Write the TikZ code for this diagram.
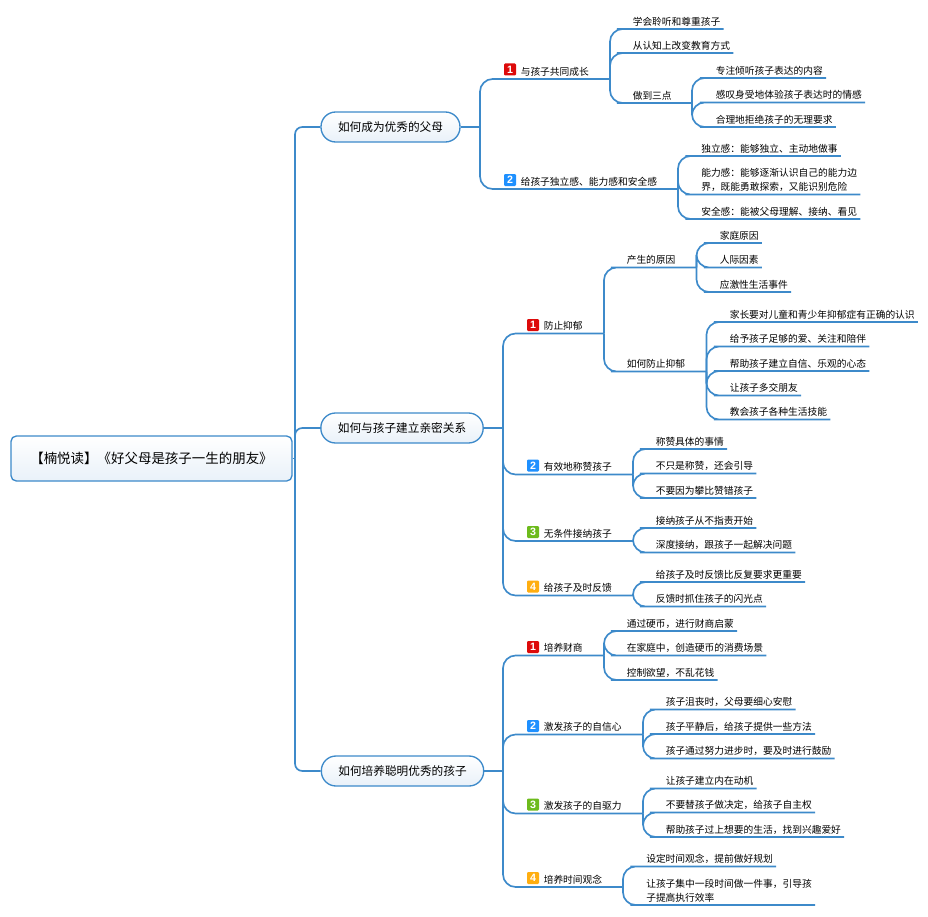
\documentclass[tikz,border=0pt]{standalone}
\usepackage{fontspec}
\setmainfont{Noto Sans CJK SC}
\newfontfamily\digitfont{Liberation Sans}
\definecolor{linkblue}{HTML}{3D8ACA}
\definecolor{paleblue}{HTML}{E9F1F9}
\definecolor{badgered}{HTML}{DD0A0A}
\definecolor{badgeblue}{HTML}{1E90FF}
\definecolor{badgegreen}{HTML}{6DBB1C}
\definecolor{badgeorange}{HTML}{FFAE10}
\tikzset{
    root/.style={draw=linkblue, line width=1pt, rounded corners=4pt, top color=white, bottom color=paleblue,
        minimum width=210.75pt, minimum height=33.75pt, font=\fontsize{10.1pt}{12pt}\selectfont},
    maintopic/.style={draw=linkblue, line width=1pt, rounded corners=11pt, top color=white, bottom color=paleblue,
        inner xsep=12.75pt, inner ysep=0pt, minimum height=22.5pt, font=\fontsize{8.75pt}{11pt}\selectfont},
    leaf/.style={anchor=south west, inner xsep=2.25pt, inner ysep=1.45pt, text height=6.2pt, text depth=1pt,
        font=\fontsize{7.3pt}{10.5pt}\selectfont},
    multileaf/.style={leaf, text height=, text depth=1pt, align=left},
    badge/.style={rounded corners=0.8pt, minimum size=9pt, inner sep=0pt, text=white,
        font=\digitfont\bfseries\fontsize{8pt}{8pt}\selectfont},
    link/.style={draw=linkblue, line width=1.25pt, rounded corners=9.5pt},
    mainlink/.style={draw=linkblue, line width=1.25pt, rounded corners=5.5pt}
}
\begin{document}
\begin{tikzpicture}[x=0.75pt, y=-0.75pt]
    \useasboundingbox (0, 0) rectangle (928, 917);
    % root and main topics
    \node [root] (root) at (151.5, 458.5) {【楠悦读】《好父母是孩子一生的朋友》};
    \node [maintopic] (ma) at (390.5, 127) {如何成为优秀的父母};
    \node [maintopic] (mb) at (402, 428) {如何与孩子建立亲密关系};
    \node [maintopic] (mc) at (402.5, 771) {如何培养聪明优秀的孩子};
    \coordinate (tr) at (295, 458.5);
    \coordinate (tra) at (480, 127);
    \coordinate (trb) at (503, 428);
    \coordinate (trc) at (503, 771);
    \draw [mainlink] (root.east) -- (tr);
    \foreach \m in {ma, mb, mc}
        \draw [mainlink] (tr) |- (\m.west);
    \draw [link] (ma.east) -- (tra);
    \draw [link] (mb.east) -- (trb);
    \draw [link] (mc.east) -- (trc);

    % first branch
    \node [badge, fill=badgered] (ba1) at (510, 69.5) {1};
    \node [leaf] (a1) at (517.5, 79) {与孩子共同成长};
    \node [badge, fill=badgeblue] (ba2) at (510, 180) {2};
    \node [leaf] (a2) at (517.5, 189) {给孩子独立感、能力感和安全感};
    \coordinate (fa1) at (610, 79);
    \coordinate (fa2) at (678, 189);
    \foreach \t/\f in {a1/fa1, a2/fa2}
        \draw [link] (tra) |- (\t.south west) -- (\t.south east) -- (\f);

    \node [leaf] (a11) at (629.5, 29) {学会聆听和尊重孩子};
    \node [leaf] (a12) at (629.5, 53) {从认知上改变教育方式};
    \node [leaf] (a13) at (629.5, 103) {做到三点};
    \coordinate (fa13) at (692, 103);
    \foreach \c in {a11, a12, a13}
        \draw [link] (fa1) |- (\c.south west) -- (\c.south east);
    \draw [link] (a13.south east) -- (fa13);
    \node [leaf] (a131) at (712.5, 78) {专注倾听孩子表达的内容};
    \node [leaf] (a132) at (712.5, 102.5) {感叹身受地体验孩子表达时的情感};
    \node [leaf] (a133) at (712.5, 127) {合理地拒绝孩子的无理要求};
    \foreach \c in {a131, a132, a133}
        \draw [link] (fa13) |- (\c.south west) -- (\c.south east);

    \node [leaf] (a21) at (698, 156) {独立感：能够独立、主动地做事};
    \node [multileaf] (a22) at (698, 194.5) {能力感：能够逐渐认识自己的能力边\\界，既能勇敢探索，又能识别危险};
    \node [leaf] (a23) at (698, 219) {安全感：能被父母理解、接纳、看见};
    \foreach \c in {a21, a22, a23}
        \draw [link] (fa2) |- (\c.south west) -- (\c.south east);

    % second branch
    \node [badge, fill=badgered] (bb1) at (533, 325) {1};
    \node [leaf] (b1) at (540.5, 333.5) {防止抑郁};
    \node [badge, fill=badgeblue] (bb2) at (533, 465.5) {2};
    \node [leaf] (b2) at (540.5, 474.5) {有效地称赞孩子};
    \node [badge, fill=badgegreen] (bb3) at (533, 532) {3};
    \node [leaf] (b3) at (540.5, 541) {无条件接纳孩子};
    \node [badge, fill=badgeorange] (bb4) at (533, 586.5) {4};
    \node [leaf] (b4) at (540.5, 595.5) {给孩子及时反馈};
    \coordinate (fb1) at (604, 333.5);
    \coordinate (fb2) at (633, 474.5);
    \coordinate (fb3) at (633, 541);
    \coordinate (fb4) at (633, 595.5);
    \foreach \t/\f in {b1/fb1, b2/fb2, b3/fb3, b4/fb4}
        \draw [link] (trb) |- (\t.south west) -- (\t.south east) -- (\f);

    \node [leaf] (b11) at (623.5, 267.5) {产生的原因};
    \node [leaf] (b12) at (623.5, 371.5) {如何防止抑郁};
    \coordinate (fb11) at (696.5, 267.5);
    \coordinate (fb12) at (706.5, 371.5);
    \foreach \c/\f in {b11/fb11, b12/fb12}
        \draw [link] (fb1) |- (\c.south west) -- (\c.south east) -- (\f);
    \node [leaf] (b111) at (716.5, 243) {家庭原因};
    \node [leaf] (b112) at (716.5, 267.5) {人际因素};
    \node [leaf] (b113) at (716.5, 292) {应激性生活事件};
    \foreach \c in {b111, b112, b113}
        \draw [link] (fb11) |- (\c.south west) -- (\c.south east);
    \node [leaf] (b121) at (726.5, 322) {家长要对儿童和青少年抑郁症有正确的认识};
    \node [leaf] (b122) at (726.5, 346.5) {给予孩子足够的爱、关注和陪伴};
    \node [leaf] (b123) at (726.5, 371) {帮助孩子建立自信、乐观的心态};
    \node [leaf] (b124) at (726.5, 395.5) {让孩子多交朋友};
    \node [leaf] (b125) at (726.5, 419.5) {教会孩子各种生活技能};
    \foreach \c in {b121, b122, b123, b124, b125}
        \draw [link] (fb12) |- (\c.south west) -- (\c.south east);

    \node [leaf] (b21) at (652.5, 449) {称赞具体的事情};
    \node [leaf] (b22) at (652.5, 473.5) {不只是称赞，还会引导};
    \node [leaf] (b23) at (652.5, 498) {不要因为攀比赞错孩子};
    \foreach \c in {b21, b22, b23}
        \draw [link] (fb2) |- (\c.south west) -- (\c.south east);
    \node [leaf] (b31) at (652.5, 528) {接纳孩子从不指责开始};
    \node [leaf] (b32) at (652.5, 552.5) {深度接纳，跟孩子一起解决问题};
    \foreach \c in {b31, b32}
        \draw [link] (fb3) |- (\c.south west) -- (\c.south east);
    \node [leaf] (b41) at (652.5, 582) {给孩子及时反馈比反复要求更重要};
    \node [leaf] (b42) at (652.5, 606.5) {反馈时抓住孩子的闪光点};
    \foreach \c in {b41, b42}
        \draw [link] (fb4) |- (\c.south west) -- (\c.south east);

    % third branch
    \node [badge, fill=badgered] (bc1) at (533, 647) {1};
    \node [leaf] (c1) at (540.5, 655.5) {培养财商};
    \node [badge, fill=badgeblue] (bc2) at (533, 726) {2};
    \node [leaf] (c2) at (540.5, 734.5) {激发孩子的自信心};
    \node [badge, fill=badgegreen] (bc3) at (533, 804.5) {3};
    \node [leaf] (c3) at (540.5, 813.5) {激发孩子的自驱力};
    \node [badge, fill=badgeorange] (bc4) at (533, 878) {4};
    \node [leaf] (c4) at (540.5, 887) {培养时间观念};
    \coordinate (fc1) at (604, 655.5);
    \coordinate (fc2) at (643, 734.5);
    \coordinate (fc3) at (643, 813.5);
    \coordinate (fc4) at (623, 887);
    \foreach \t/\f in {c1/fc1, c2/fc2, c3/fc3, c4/fc4}
        \draw [link] (trc) |- (\t.south west) -- (\t.south east) -- (\f);

    \node [leaf] (c11) at (623.5, 631) {通过硬币，进行财商启蒙};
    \node [leaf] (c12) at (623.5, 655.5) {在家庭中，创造硬币的消费场景};
    \node [leaf] (c13) at (623.5, 680) {控制欲望，不乱花钱};
    \foreach \c in {c11, c12, c13}
        \draw [link] (fc1) |- (\c.south west) -- (\c.south east);
    \node [leaf] (c21) at (662.5, 709.5) {孩子沮丧时，父母要细心安慰};
    \node [leaf] (c22) at (662.5, 734) {孩子平静后，给孩子提供一些方法};
    \node [leaf] (c23) at (662.5, 758.5) {孩子通过努力进步时，要及时进行鼓励};
    \foreach \c in {c21, c22, c23}
        \draw [link] (fc2) |- (\c.south west) -- (\c.south east);
    \node [leaf] (c31) at (662.5, 788.5) {让孩子建立内在动机};
    \node [leaf] (c32) at (662.5, 812.5) {不要替孩子做决定，给孩子自主权};
    \node [leaf] (c33) at (662.5, 837) {帮助孩子过上想要的生活，找到兴趣爱好};
    \foreach \c in {c31, c32, c33}
        \draw [link] (fc3) |- (\c.south west) -- (\c.south east);
    \node [leaf] (c41) at (643, 866.5) {设定时间观念，提前做好规划};
    \node [multileaf] (c42) at (643, 905) {让孩子集中一段时间做一件事，引导孩\\子提高执行效率};
    \foreach \c in {c41, c42}
        \draw [link] (fc4) |- (\c.south west) -- (\c.south east);
\end{tikzpicture}
\end{document}
